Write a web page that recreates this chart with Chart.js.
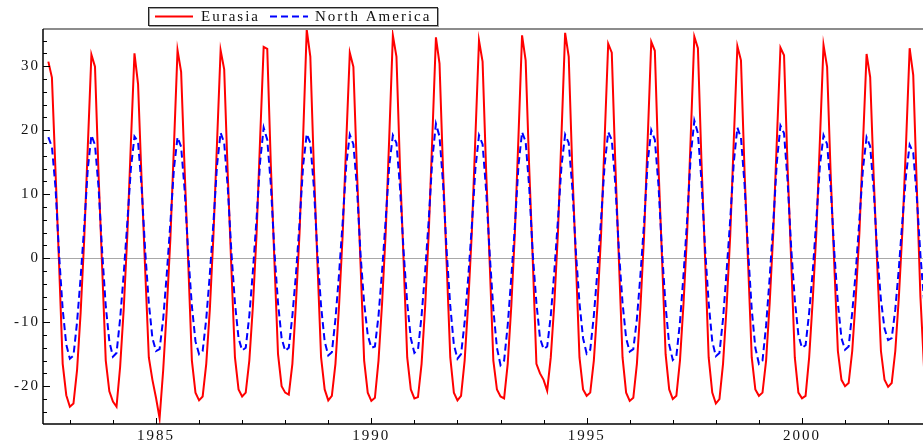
<!DOCTYPE html>
<html>
<head>
<meta charset="utf-8">
<script src="https://cdn.jsdelivr.net/npm/chart.js@4.4.1/dist/chart.umd.min.js"></script>
<style>
  html, body { margin: 0; padding: 0; background: #fff; overflow: hidden; }
  canvas { display: block; }
</style>
</head>
<body>
<canvas id="chart" width="923" height="445"></canvas>
<script>
// Monthly series, first value is July 1982, last is November 2002
const START_YEAR = 1982;
const START_MONTH = 7;

const eurasia = [
  30.7, 28.2, 13.5, -1.0, -16.5, -21.4,                                          // 1982 Jul-Dec
  -23.2, -22.7, -17.5, -8.5, 3.0, 17.5, 31.8, 29.9, 13.0, -1.5, -16.0, -20.8,    // 1983
  -22.4, -23.2, -17.0, -8.0, 3.5, 18.0, 32.0, 27.2, 12.0, -2.0, -15.5, -19.0,    // 1984
  -21.8, -25.0, -17.5, -8.0, 3.0, 17.5, 32.5, 29.1, 13.5, -1.0, -16.0, -21.0,    // 1985
  -22.2, -21.6, -16.5, -8.0, 3.5, 18.0, 32.5, 29.5, 13.0, -1.5, -15.5, -20.5,    // 1986
  -21.6, -21.0, -16.0, -7.5, 3.5, 18.5, 33.0, 32.7, 14.5, -0.5, -15.0, -20.0,    // 1987
  -21.0, -21.3, -16.5, -7.0, 4.0, 19.0, 35.7, 31.5, 14.0, -1.0, -15.5, -20.5,    // 1988
  -22.2, -21.5, -16.5, -7.5, 3.5, 18.0, 32.1, 29.9, 13.5, -1.0, -16.0, -21.0,    // 1989
  -22.3, -21.8, -16.0, -7.0, 4.0, 19.0, 34.8, 31.5, 14.0, -0.5, -15.5, -20.5,    // 1990
  -21.9, -21.7, -16.5, -7.5, 4.0, 19.0, 34.5, 30.4, 13.5, -1.0, -15.5, -21.0,    // 1991
  -22.2, -21.5, -16.0, -7.0, 4.0, 19.0, 34.0, 30.7, 13.5, -1.0, -16.0, -20.5,    // 1992
  -21.6, -21.9, -16.5, -7.5, 4.0, 19.0, 34.8, 30.9, 14.0, -0.5, -16.5, -18.0,    // 1993
  -19.0, -20.7, -15.5, -7.0, 4.0, 19.5, 35.2, 31.5, 14.0, -0.5, -15.5, -20.5,    // 1994
  -21.5, -21.0, -16.0, -7.5, 3.5, 18.5, 33.5, 32.1, 14.5, -0.5, -15.5, -21.0,    // 1995
  -22.3, -21.8, -16.5, -7.5, 3.5, 18.5, 33.8, 32.4, 14.5, 0.0, -15.0, -20.5,     // 1996
  -22.0, -21.5, -16.0, -7.0, 4.0, 19.0, 34.6, 32.8, 15.0, 0.0, -15.5, -21.0,     // 1997
  -22.7, -22.0, -16.5, -7.5, 3.5, 18.5, 33.1, 30.9, 13.5, -1.0, -15.5, -20.5,    // 1998
  -21.5, -21.0, -16.0, -7.0, 4.0, 18.5, 32.9, 31.7, 14.0, -0.5, -15.5, -21.0,    // 1999
  -21.9, -21.5, -15.5, -6.5, 4.0, 18.5, 33.3, 29.9, 13.0, -1.0, -14.5, -19.0,    // 2000
  -20.0, -19.5, -14.5, -6.0, 4.0, 18.0, 31.9, 28.3, 12.5, -1.5, -14.5, -19.0,    // 2001
  -20.1, -19.5, -14.5, -6.0, 4.5, 18.0, 32.8, 28.6, 11.0, -6.0, -17.0            // 2002 Jan-Nov
];

const northAmerica = [
  18.9, 17.4, 11.0, 0.5, -8.0, -13.5,                                            // 1982 Jul-Dec
  -15.7, -15.2, -10.0, -3.0, 5.0, 14.0, 19.2, 17.7, 11.0, 1.0, -7.5, -13.0,      // 1983
  -15.4, -14.8, -9.5, -2.5, 5.5, 14.0, 19.0, 18.2, 11.0, 1.0, -7.0, -12.5,       // 1984
  -14.5, -14.2, -9.5, -2.5, 5.5, 14.0, 18.9, 17.4, 10.5, 0.5, -7.5, -13.0,       // 1985
  -15.0, -14.5, -9.5, -2.5, 5.5, 14.5, 19.6, 18.0, 11.0, 1.0, -7.0, -12.5,       // 1986
  -14.4, -14.0, -9.0, -2.0, 6.0, 15.0, 20.4, 18.5, 11.5, 1.0, -7.0, -12.5,       // 1987
  -14.5, -14.0, -9.0, -2.5, 5.5, 14.5, 19.4, 18.0, 11.0, 0.5, -7.5, -13.0,       // 1988
  -15.2, -14.7, -9.5, -2.5, 5.5, 14.5, 19.3, 17.8, 11.0, 0.5, -7.0, -12.0,       // 1989
  -14.0, -13.8, -9.0, -2.0, 6.0, 14.5, 19.2, 18.0, 11.0, 1.0, -7.0, -12.5,       // 1990
  -14.8, -14.3, -9.0, -2.0, 6.0, 15.5, 21.0, 19.0, 11.5, 1.0, -7.5, -13.5,       // 1991
  -15.7, -15.0, -10.0, -3.0, 5.0, 14.0, 19.2, 17.8, 10.5, 0.5, -8.0, -14.0,      // 1992
  -16.7, -16.0, -10.5, -3.0, 5.0, 14.5, 19.7, 18.2, 11.0, 0.5, -7.0, -12.5,      // 1993
  -14.2, -13.8, -9.0, -2.0, 6.0, 14.5, 19.3, 18.0, 11.0, 1.0, -7.0, -12.5,       // 1994
  -14.9, -14.3, -9.0, -2.0, 6.0, 14.5, 19.7, 18.5, 11.5, 1.0, -7.0, -12.5,       // 1995
  -14.6, -14.2, -9.5, -2.5, 5.5, 15.0, 20.0, 18.5, 11.5, 1.0, -7.5, -13.5,       // 1996
  -15.9, -15.3, -10.0, -2.5, 6.0, 16.0, 21.5, 19.5, 12.0, 1.5, -7.0, -13.0,      // 1997
  -15.3, -14.8, -9.5, -2.0, 6.0, 15.0, 20.4, 18.8, 11.5, 1.0, -8.0, -14.0,       // 1998
  -16.5, -16.0, -10.5, -3.0, 5.5, 15.0, 20.7, 19.5, 12.0, 1.5, -6.5, -12.0,      // 1999
  -14.0, -13.6, -8.5, -2.0, 6.0, 14.5, 19.2, 17.8, 11.0, 1.0, -7.0, -12.5,       // 2000
  -14.3, -13.8, -8.5, -2.0, 6.0, 14.0, 18.9, 17.5, 10.5, 0.5, -6.5, -11.0,       // 2001
  -12.8, -12.5, -8.0, -1.5, 6.0, 13.0, 17.7, 16.5, 9.5, 0.5, -6.5                // 2002 Jan-Nov
];

const X_TICKS = [1985, 1990, 1995, 2000];
const Y_TICKS = [-20, -10, 0, 10, 20, 30];

// visible window of the axes
const X_MIN = 1982.376;
const X_MAX = 2002.81;
const Y_MIN = -25.9;
const Y_MAX = 35.8;

const FONT_FAMILY = '"Liberation Serif", "Times New Roman", serif';

// decimal year for the i-th month of a series
function monthTime(i) {
  return START_YEAR + (START_MONTH - 1 + i) / 12;
}

function toPoints(values) {
  return values.map((v, i) => ({ x: monthTime(i), y: v }));
}

function line(ctx, x1, y1, x2, y2) {
  ctx.beginPath();
  ctx.moveTo(x1, y1);
  ctx.lineTo(x2, y2);
  ctx.stroke();
}

// spaced-out serif text like the original plot
const textStyle = {
  id: 'textStyle',
  beforeDraw(chart) {
    chart.ctx.letterSpacing = '2px';
  }
};

// zero line under the data, frame and inward tick marks over it
const frame = {
  id: 'frame',
  beforeDatasetsDraw(chart) {
    const { ctx, chartArea: a, scales: { y } } = chart;
    const py = Math.round(y.getPixelForValue(0)) + 0.5;
    ctx.save();
    ctx.strokeStyle = '#a8a8a8';
    ctx.lineWidth = 1.2;
    line(ctx, a.left, py, a.right, py);
    ctx.restore();
  },
  afterDatasetsDraw(chart) {
    const { ctx, chartArea: a, scales: { x, y } } = chart;
    ctx.save();

    // top border
    ctx.strokeStyle = '#8c8c8c';
    ctx.lineWidth = 2;
    line(ctx, a.left, a.top, a.right, a.top);

    // left and bottom axes
    ctx.strokeStyle = '#000';
    ctx.lineWidth = 1.5;
    line(ctx, a.left, a.top, a.left, a.bottom);
    line(ctx, a.left, a.bottom, a.right, a.bottom);

    ctx.lineWidth = 1;
    for (let yr = Math.ceil(x.min); yr <= x.max; yr++) {
      const px = Math.round(x.getPixelForValue(yr)) + 0.5;
      const len = X_TICKS.includes(yr) ? 6 : 4;
      line(ctx, px, a.bottom, px, a.bottom - len);
    }
    for (let v = Math.ceil(y.min / 2) * 2; v <= y.max; v += 2) {
      const py = Math.round(y.getPixelForValue(v)) + 0.5;
      const len = v % 10 === 0 ? 7 : 4;
      line(ctx, a.left, py, a.left + len, py);
    }
    ctx.restore();
  }
};

// boxed legend at the top
const boxLegend = {
  id: 'boxLegend',
  afterDraw(chart) {
    const ctx = chart.ctx;
    const [red, blue] = chart.data.datasets;
    ctx.save();
    ctx.fillStyle = '#fff';
    ctx.fillRect(148, 7, 290, 19);
    ctx.strokeStyle = '#a0a0a0';
    ctx.lineWidth = 1;
    ctx.strokeRect(149.5, 8.5, 289, 18);
    ctx.strokeStyle = '#222';
    ctx.strokeRect(148.5, 7.5, 289, 18);

    const ly = 16.5;
    ctx.lineWidth = 2;
    ctx.strokeStyle = red.borderColor;
    line(ctx, 155, ly, 193, ly);
    ctx.strokeStyle = blue.borderColor;
    ctx.setLineDash(blue.borderDash);
    line(ctx, 270, ly, 308, ly);
    ctx.setLineDash([]);

    ctx.fillStyle = '#111';
    ctx.font = '15px ' + FONT_FAMILY;
    ctx.letterSpacing = '2px';
    ctx.textBaseline = 'middle';
    ctx.textAlign = 'left';
    ctx.fillText(red.label, 201, ly + 0.5);
    ctx.fillText(blue.label, 315, ly + 0.5);
    ctx.restore();
  }
};

const tickFont = { family: FONT_FAMILY, size: 15 };

new Chart(document.getElementById('chart'), {
  type: 'line',
  data: {
    datasets: [
      {
        label: 'Eurasia',
        data: toPoints(eurasia),
        borderColor: '#ff0000',
        borderWidth: 2,
        pointRadius: 0,
        tension: 0,
        fill: false,
        order: 1
      },
      {
        label: 'North America',
        data: toPoints(northAmerica),
        borderColor: '#0000ff',
        borderWidth: 2,
        borderDash: [7, 4],
        pointRadius: 0,
        tension: 0,
        fill: false,
        order: 0
      }
    ]
  },
  options: {
    responsive: false,
    animation: false,
    events: [],
    layout: { padding: { top: 29, right: 0, bottom: 0, left: 0 } },
    plugins: {
      legend: { display: false },
      tooltip: { enabled: false }
    },
    scales: {
      x: {
        type: 'linear',
        min: X_MIN,
        max: X_MAX,
        afterBuildTicks: (scale) => { scale.ticks = X_TICKS.map(v => ({ value: v })); },
        afterFit: (scale) => { scale.height = 21; },
        grid: { display: false, drawTicks: false },
        border: { display: false },
        ticks: {
          padding: 3,
          maxRotation: 0,
          autoSkip: false,
          color: '#111',
          font: tickFont,
          callback: (v) => String(v)
        }
      },
      y: {
        type: 'linear',
        min: Y_MIN,
        max: Y_MAX,
        afterBuildTicks: (scale) => { scale.ticks = Y_TICKS.map(v => ({ value: v })); },
        afterFit: (scale) => { scale.width = 43; },
        grid: { display: false, drawTicks: false },
        border: { display: false },
        ticks: {
          padding: 3,
          color: '#111',
          font: tickFont,
          callback: (v) => String(v)
        }
      }
    }
  },
  plugins: [textStyle, frame, boxLegend]
});
</script>
</body>
</html>
